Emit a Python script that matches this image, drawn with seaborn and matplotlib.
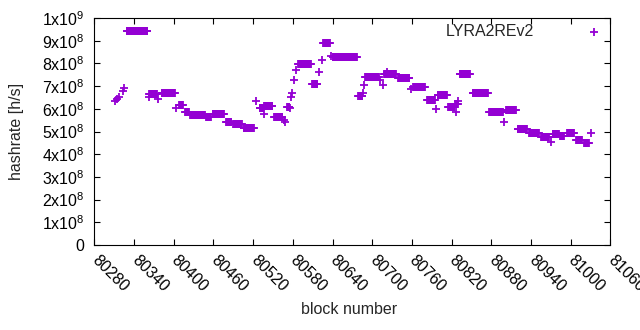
import matplotlib
matplotlib.use("Agg")
import matplotlib.pyplot as plt
import numpy as np
import pandas as pd
import seaborn as sns

# runs of consecutive blocks that share one hashrate estimate
# (first block, last block, hashrate in units of 1e8 h/s)
run_first = [80311, 80314, 80317, 80323, 80325, 80329, 80362, 80363, 80377, 80382,
             80404, 80408, 80417, 80425, 80449, 80459, 80479, 80490, 80506, 80525,
             80530, 80536, 80537, 80552, 80567, 80568, 80571, 80576, 80578, 80579,
             80582, 80585, 80588, 80609, 80620, 80624, 80626, 80638, 80640, 80679,
             80686, 80688, 80689, 80690, 80712, 80716, 80718, 80722, 80739, 80759,
             80762, 80783, 80797, 80799, 80815, 80825, 80826, 80829, 80832, 80852,
             80877, 80899, 80902, 80920, 80937, 80955, 80970, 80973, 80984, 80995,
             81008, 81020, 81031]
run_last = [80311, 80314, 80317, 80323, 80325, 80360, 80362, 80375, 80377, 80402,
            80404, 80414, 80423, 80447, 80456, 80476, 80487, 80503, 80521, 80525,
            80535, 80536, 80549, 80564, 80567, 80568, 80575, 80576, 80578, 80579,
            80582, 80585, 80607, 80617, 80620, 80624, 80636, 80638, 80677, 80685,
            80686, 80688, 80689, 80710, 80712, 80716, 80736, 80722, 80756, 80759,
            80780, 80795, 80797, 80813, 80824, 80829, 80826, 80829, 80848, 80875,
            80897, 80899, 80917, 80934, 80952, 80967, 80970, 80982, 80990, 81005,
            81017, 81027, 81031]
run_rate = [6.35, 6.42, 6.50, 6.80, 6.90, 9.43, 6.53, 6.67, 6.42, 6.68,
            6.02, 6.17, 5.87, 5.73, 5.64, 5.77, 5.43, 5.32, 5.16, 6.34,
            6.02, 5.76, 6.14, 5.65, 5.50, 5.43, 6.09, 6.03, 6.53, 6.71,
            7.27, 7.71, 7.96, 7.08, 7.61, 8.15, 8.88, 8.34, 8.28, 6.55,
            6.71, 7.05, 7.39, 7.42, 7.27, 7.05, 7.53, 7.63, 7.37, 6.86,
            6.96, 6.39, 5.98, 6.61, 6.08, 6.20, 5.87, 6.36, 7.52, 6.68,
            5.87, 5.41, 5.93, 5.10, 4.92, 4.74, 4.52, 4.87, 4.80, 4.92,
            4.63, 4.51, 4.95]

x_ticks = list(range(80280, 81061, 60))
y_ticks = [k * 1e8 for k in range(11)]
y_labels = ["0"] + [rf"{k}x10$^{{\mathregular{{8}}}}$" for k in range(1, 10)] \
    + [r"1x10$^{\mathregular{9}}$"]

series_name = "LYRA2REv2"
point_color = "#9400d3"
fs = 11.5

# expand the runs into one row per block
rows = []
for first, last, rate in zip(run_first, run_last, run_rate):
    for block in range(first, last + 1):
        rows.append((block, rate * 1e8))
df = pd.DataFrame(rows, columns=["block", "hashrate"])

sns.set_theme(style="ticks")
plt.rcParams["font.family"] = ["Liberation Sans", "DejaVu Sans"]
plt.rcParams["font.size"] = fs

fig, ax = plt.subplots(figsize=(6.4, 3.3), dpi=100)
fig.subplots_adjust(left=94.3 / 640, right=610.4 / 640,
                    bottom=1 - 245 / 330, top=1 - 18 / 330)

sns.scatterplot(data=df, x="block", y="hashrate", marker="+", s=32,
                linewidth=1.3, color=point_color, label=series_name, ax=ax)

ax.set_xlim(80280, 81060)
ax.set_ylim(0, 1e9)
ax.set_xticks(x_ticks)
ax.set_xticklabels([str(t) for t in x_ticks], rotation=-45, ha="left",
                   va="center", rotation_mode="anchor", fontsize=fs)
ax.set_yticks(y_ticks)
ax.set_yticklabels(y_labels, fontsize=fs)

for side in ["top", "right", "bottom", "left"]:
    ax.spines[side].set_visible(True)
    ax.spines[side].set_linewidth(0.8)
    ax.spines[side].set_color("black")
ax.tick_params(direction="in", length=4, width=0.8, top=True, right=True,
               colors="black")
ax.tick_params(axis="x", pad=9)
ax.tick_params(axis="y", pad=7)

ax.set_xlabel("block number", fontsize=fs)
ax.set_ylabel("hashrate [h/s]", fontsize=fs)
ax.xaxis.set_label_coords(0.494, -0.25)
ax.yaxis.set_label_coords(-0.137, 0.5)

ax.legend(loc="upper right", bbox_to_anchor=(1.0, 0.974), frameon=False,
          markerfirst=False, borderpad=0, borderaxespad=0, handlelength=2,
          handletextpad=2.8, fontsize=fs)

fig.savefig("out.png", dpi=100)
